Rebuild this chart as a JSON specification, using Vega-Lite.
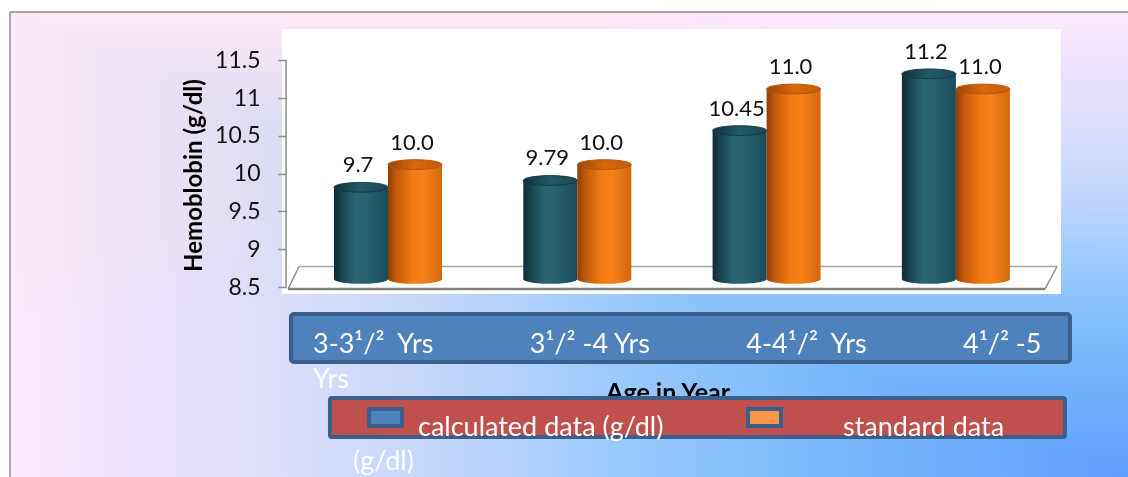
{
  "$schema": "https://vega.github.io/schema/vega-lite/v6.json",
  "width": 1118,
  "height": 465,
  "autosize": "none",
  "padding": {"left": 10, "top": 12, "right": 0, "bottom": 0},
  "background": "white",
  "config": {"view": {"stroke": null}, "font": "Lato", "text": {"font": "Lato"}},
  "data": {"values": [{}]},
  "datasets": {
    "hb": [
      {"age": "3-3½", "series": "calculated", "value": 9.7},
      {"age": "3-3½", "series": "standard", "value": 10.0},
      {"age": "3½-4", "series": "calculated", "value": 9.79},
      {"age": "3½-4", "series": "standard", "value": 10.0},
      {"age": "4-4½", "series": "calculated", "value": 10.45},
      {"age": "4-4½", "series": "standard", "value": 11.0},
      {"age": "4½-5", "series": "calculated", "value": 11.2},
      {"age": "4½-5", "series": "standard", "value": 11.0}
    ],
    "ages": [
      {"age": "3-3½", "label": "3-3¹/²\u00a0\u00a0Yrs\nYrs"},
      {"age": "3½-4", "label": "3¹/² -4 Yrs"},
      {"age": "4-4½", "label": "4-4¹/²\u00a0\u00a0Yrs"},
      {"age": "4½-5", "label": "4¹/² -5"}
    ],
    "legend": [
      {"series": "calculated", "label": "calculated data (g/dl)"},
      {"series": "standard", "label": "standard data"}
    ]
  },
  "resolve": {"scale": {"x": "independent"}},
  "layer": [
    {
      "mark": {
        "type": "rect",
        "fill": {
          "gradient": "linear", "x1": 1, "y1": 0, "x2": 0, "y2": 0,
          "stops": [
            {"offset": 0, "color": "#5f9ffc"},
            {"offset": 0.27, "color": "#7ab8fb"},
            {"offset": 0.35, "color": "#86bffb"},
            {"offset": 0.47, "color": "#9ecbf6"},
            {"offset": 0.55, "color": "#b3d1f2"},
            {"offset": 0.63, "color": "#c6d8ef"},
            {"offset": 0.75, "color": "#dadcf0"},
            {"offset": 0.87, "color": "#ebe2f3"},
            {"offset": 1, "color": "#fce9f7"}
          ]
        }
      },
      "encoding": {}
    },
    {
      "mark": {
        "type": "rect", "blend": "lighten",
        "fill": {
          "gradient": "linear", "x1": 0, "y1": 1, "x2": 0, "y2": 0,
          "stops": [
            {"offset": 0, "color": "#5f9ffc"},
            {"offset": 0.27, "color": "#7ab8fb"},
            {"offset": 0.35, "color": "#86bffb"},
            {"offset": 0.47, "color": "#9ecbf6"},
            {"offset": 0.55, "color": "#b3d1f2"},
            {"offset": 0.63, "color": "#c6d8ef"},
            {"offset": 0.75, "color": "#dadcf0"},
            {"offset": 0.87, "color": "#ebe2f3"},
            {"offset": 1, "color": "#fce9f7"}
          ]
        }
      },
      "encoding": {}
    },
    {
      "mark": {"type": "rule", "stroke": "#8c8c8c", "strokeWidth": 1.5},
      "encoding": {
        "y": {"datum": 12.1376, "type": "quantitative", "scale": {"domain": [5.9868, 12.1376], "nice": false, "zero": false}}
      }
    },
    {
      "mark": {"type": "rule", "stroke": "#8c8c8c", "strokeWidth": 1.5},
      "encoding": {
        "x": {"datum": 0, "type": "quantitative", "scale": {"domain": [0, 1], "nice": false, "zero": false}, "axis": null}
      }
    },
    {
      "mark": {"type": "rect", "fill": "#ffffff"},
      "encoding": {
        "x": {"datum": 0.2433, "type": "quantitative", "scale": {"domain": [0, 1], "nice": false, "zero": false}, "axis": null},
        "x2": {"datum": 0.9401},
        "y": {
          "datum": 11.913, "type": "quantitative",
          "scale": {"domain": [5.9868, 12.1376], "nice": false, "zero": false},
          "axis": {
            "orient": "left", "offset": -276, "zindex": 1,
            "values": [8.5, 9, 9.5, 10, 10.5, 11, 11.5], "format": "~g",
            "domain": false, "grid": false,
            "tickSize": 8, "tickColor": "#8c8c8c", "tickWidth": 1.5,
            "labelFont": "Lato", "labelFontSize": 23, "labelColor": "#111111", "labelPadding": 18,
            "labelFlush": false, "labelOverlap": false,
            "title": "Hemoblobin (g/dl)", "titleFont": "Lato", "titleFontSize": 24, "titleFontWeight": "bold",
            "titleColor": "#000000", "titleAngle": 270, "titleX": -92, "titleY": 163,
            "titleAlign": "center", "titleBaseline": "middle"
          }
        },
        "y2": {"datum": 8.407}
      }
    },
    {
      "mark": {"type": "rule", "stroke": "#a6a6a6", "strokeWidth": 1.5},
      "encoding": {
        "x": {"datum": 0.2585, "type": "quantitative", "scale": {"domain": [0, 1], "nice": false, "zero": false}, "axis": null},
        "x2": {"datum": 0.9365},
        "y": {"datum": 8.7712, "type": "quantitative"}
      }
    },
    {
      "mark": {"type": "rule", "stroke": "#8c8c8c", "strokeWidth": 1.5},
      "encoding": {
        "x": {"datum": 0.9365, "type": "quantitative", "scale": {"domain": [0, 1], "nice": false, "zero": false}, "axis": null},
        "x2": {"datum": 0.9258},
        "y": {"datum": 8.7712, "type": "quantitative"},
        "y2": {"datum": 8.4735}
      }
    },
    {
      "mark": {"type": "rule", "stroke": "#8c8c8c", "strokeWidth": 1.5},
      "encoding": {
        "x": {"datum": 0.2585, "type": "quantitative", "scale": {"domain": [0, 1], "nice": false, "zero": false}, "axis": null},
        "x2": {"datum": 0.2487},
        "y": {"datum": 8.7712, "type": "quantitative"},
        "y2": {"datum": 8.4735}
      }
    },
    {
      "mark": {"type": "rule", "stroke": "#808080", "strokeWidth": 2.5},
      "encoding": {
        "x": {"datum": 0.2487, "type": "quantitative", "scale": {"domain": [0, 1], "nice": false, "zero": false}, "axis": null},
        "x2": {"datum": 0.9258},
        "y": {"datum": 8.4735, "type": "quantitative"}
      }
    },
    {
      "mark": {"type": "rule", "stroke": "#8c8c8c", "strokeWidth": 1.5},
      "encoding": {
        "x": {"datum": 0.2469, "type": "quantitative", "scale": {"domain": [0, 1], "nice": false, "zero": false}, "axis": null},
        "y": {"datum": 11.5, "type": "quantitative"},
        "y2": {"datum": 8.4868}
      }
    },
    {
      "data": {"name": "hb"},
      "transform": [{"filter": "datum.series === 'calculated'"}],
      "mark": {
        "type": "point", "shape": "M-1,0A1,0.18,0,1,1,1,0A1,0.18,0,1,1,-1,0Z", "size": 2916,
        "filled": true, "opacity": 1, "yOffset": -8,
        "fill": {"gradient": "linear", "x1": 0, "y1": 0, "x2": 1, "y2": 0,
          "stops": [{"offset": 0, "color": "#0f2c37"}, {"offset": 0.12, "color": "#17404d"}, {"offset": 0.4, "color": "#2a6575"}, {"offset": 0.62, "color": "#286070"}, {"offset": 1, "color": "#1b4b5a"}]}
      },
      "encoding": {
        "x": {"field": "age", "type": "nominal", "scale": {"domain": ["3-3½", "3½-4", "4-4½", "4½-5"], "range": [324, 999.9], "paddingInner": 0.4295, "paddingOuter": 0}, "axis": null},
        "xOffset": {"field": "series", "type": "nominal", "scale": {"domain": ["calculated", "standard"], "paddingInner": 0, "paddingOuter": 0}},
        "y": {"datum": 8.5, "type": "quantitative"}
      }
    },
    {
      "data": {"name": "hb"},
      "transform": [{"filter": "datum.series === 'calculated'"}],
      "mark": {
        "type": "bar", "yOffset": -9, "y2Offset": -8,
        "fill": {"gradient": "linear", "x1": 0, "y1": 0, "x2": 1, "y2": 0,
          "stops": [{"offset": 0, "color": "#0f2c37"}, {"offset": 0.12, "color": "#17404d"}, {"offset": 0.4, "color": "#2a6575"}, {"offset": 0.62, "color": "#286070"}, {"offset": 1, "color": "#1b4b5a"}]}
      },
      "encoding": {
        "x": {"field": "age", "type": "nominal", "scale": {"domain": ["3-3½", "3½-4", "4-4½", "4½-5"], "range": [324, 999.9], "paddingInner": 0.4295, "paddingOuter": 0}, "axis": null},
        "xOffset": {"field": "series", "type": "nominal", "scale": {"domain": ["calculated", "standard"], "paddingInner": 0, "paddingOuter": 0}},
        "y": {"field": "value", "type": "quantitative", "title": "Hemoblobin (g/dl)"},
        "y2": {"datum": 8.5}
      }
    },
    {
      "data": {"name": "hb"},
      "transform": [{"filter": "datum.series === 'calculated'"}],
      "mark": {
        "type": "point", "shape": "M-1,0A1,0.18,0,1,1,1,0A1,0.18,0,1,1,-1,0Z", "size": 2916,
        "filled": true, "opacity": 1, "yOffset": -9, "stroke": "#143a47", "strokeWidth": 1,
        "fill": {"gradient": "linear", "x1": 0, "y1": 0, "x2": 1, "y2": 0,
          "stops": [{"offset": 0, "color": "#11313c"}, {"offset": 0.5, "color": "#23586a"}, {"offset": 1, "color": "#1a4756"}]}
      },
      "encoding": {
        "x": {"field": "age", "type": "nominal", "scale": {"domain": ["3-3½", "3½-4", "4-4½", "4½-5"], "range": [324, 999.9], "paddingInner": 0.4295, "paddingOuter": 0}, "axis": null},
        "xOffset": {"field": "series", "type": "nominal", "scale": {"domain": ["calculated", "standard"], "paddingInner": 0, "paddingOuter": 0}},
        "y": {"field": "value", "type": "quantitative"}
      }
    },
    {
      "data": {"name": "hb"},
      "transform": [{"filter": "datum.series === 'standard'"}],
      "mark": {
        "type": "point", "shape": "M-1,0A1,0.18,0,1,1,1,0A1,0.18,0,1,1,-1,0Z", "size": 2916,
        "filled": true, "opacity": 1, "yOffset": -8,
        "fill": {"gradient": "linear", "x1": 0, "y1": 0, "x2": 1, "y2": 0,
          "stops": [{"offset": 0, "color": "#8c3f05"}, {"offset": 0.15, "color": "#c2590a"}, {"offset": 0.45, "color": "#f27a12"}, {"offset": 0.65, "color": "#f6801a"}, {"offset": 1, "color": "#d4680b"}]}
      },
      "encoding": {
        "x": {"field": "age", "type": "nominal", "scale": {"domain": ["3-3½", "3½-4", "4-4½", "4½-5"], "range": [324, 999.9], "paddingInner": 0.4295, "paddingOuter": 0}, "axis": null},
        "xOffset": {"field": "series", "type": "nominal", "scale": {"domain": ["calculated", "standard"], "paddingInner": 0, "paddingOuter": 0}},
        "y": {"datum": 8.5, "type": "quantitative"}
      }
    },
    {
      "data": {"name": "hb"},
      "transform": [{"filter": "datum.series === 'standard'"}],
      "mark": {
        "type": "bar", "yOffset": -9, "y2Offset": -8,
        "fill": {"gradient": "linear", "x1": 0, "y1": 0, "x2": 1, "y2": 0,
          "stops": [{"offset": 0, "color": "#8c3f05"}, {"offset": 0.15, "color": "#c2590a"}, {"offset": 0.45, "color": "#f27a12"}, {"offset": 0.65, "color": "#f6801a"}, {"offset": 1, "color": "#d4680b"}]}
      },
      "encoding": {
        "x": {"field": "age", "type": "nominal", "scale": {"domain": ["3-3½", "3½-4", "4-4½", "4½-5"], "range": [324, 999.9], "paddingInner": 0.4295, "paddingOuter": 0}, "axis": null},
        "xOffset": {"field": "series", "type": "nominal", "scale": {"domain": ["calculated", "standard"], "paddingInner": 0, "paddingOuter": 0}},
        "y": {"field": "value", "type": "quantitative", "title": "Hemoblobin (g/dl)"},
        "y2": {"datum": 8.5}
      }
    },
    {
      "data": {"name": "hb"},
      "transform": [{"filter": "datum.series === 'standard'"}],
      "mark": {
        "type": "point", "shape": "M-1,0A1,0.18,0,1,1,1,0A1,0.18,0,1,1,-1,0Z", "size": 2916,
        "filled": true, "opacity": 1, "yOffset": -9, "stroke": "#b5530a", "strokeWidth": 1,
        "fill": {"gradient": "linear", "x1": 0, "y1": 0, "x2": 1, "y2": 0,
          "stops": [{"offset": 0, "color": "#9a4606"}, {"offset": 0.5, "color": "#d9680d"}, {"offset": 1, "color": "#c45d0a"}]}
      },
      "encoding": {
        "x": {"field": "age", "type": "nominal", "scale": {"domain": ["3-3½", "3½-4", "4-4½", "4½-5"], "range": [324, 999.9], "paddingInner": 0.4295, "paddingOuter": 0}, "axis": null},
        "xOffset": {"field": "series", "type": "nominal", "scale": {"domain": ["calculated", "standard"], "paddingInner": 0, "paddingOuter": 0}},
        "y": {"field": "value", "type": "quantitative"}
      }
    },
    {
      "data": {"name": "hb"},
      "transform": [{"filter": "datum.series === 'calculated'"}],
      "mark": {"type": "text", "font": "Lato", "fontSize": 22, "color": "#111111", "align": "center", "baseline": "alphabetic", "yOffset": -24, "dx": -3},
      "encoding": {
        "x": {"field": "age", "type": "nominal", "scale": {"domain": ["3-3½", "3½-4", "4-4½", "4½-5"], "range": [324, 999.9], "paddingInner": 0.4295, "paddingOuter": 0}, "axis": null},
        "xOffset": {"field": "series", "type": "nominal", "scale": {"domain": ["calculated", "standard"], "paddingInner": 0, "paddingOuter": 0}},
        "y": {"field": "value", "type": "quantitative"},
        "text": {"field": "value", "type": "quantitative", "format": "~g"}
      }
    },
    {
      "data": {"name": "hb"},
      "transform": [{"filter": "datum.series === 'standard'"}],
      "mark": {"type": "text", "font": "Lato", "fontSize": 22, "color": "#111111", "align": "center", "baseline": "alphabetic", "yOffset": -24, "dx": -3},
      "encoding": {
        "x": {"field": "age", "type": "nominal", "scale": {"domain": ["3-3½", "3½-4", "4-4½", "4½-5"], "range": [324, 999.9], "paddingInner": 0.4295, "paddingOuter": 0}, "axis": null},
        "xOffset": {"field": "series", "type": "nominal", "scale": {"domain": ["calculated", "standard"], "paddingInner": 0, "paddingOuter": 0}},
        "y": {"field": "value", "type": "quantitative"},
        "text": {"field": "value", "type": "quantitative", "format": ".1f"}
      }
    },
    {
      "mark": {"type": "rect", "fill": "#4f81bd", "stroke": "#3a5f8b", "strokeWidth": 4, "cornerRadius": 3},
      "encoding": {
        "x": {"datum": 0.2513, "type": "quantitative", "scale": {"domain": [0, 1], "nice": false, "zero": false}, "axis": null},
        "x2": {"datum": 0.9481},
        "y": {"datum": 8.1429, "type": "quantitative"},
        "y2": {"datum": 7.5079}
      }
    },
    {
      "data": {"name": "ages"},
      "mark": {"type": "text", "font": "Lato", "fontSize": 27, "color": "#ffffff", "align": "left", "baseline": "alphabetic", "lineBreak": "\n", "lineHeight": 35},
      "encoding": {
        "x": {"field": "age", "type": "nominal", "scale": {"type": "point", "domain": ["3-3½", "3½-4", "4-4½", "4½-5"], "range": [303, 953], "padding": 0}, "axis": null},
        "y": {"datum": 7.627, "type": "quantitative"},
        "text": {"field": "label", "type": "nominal"}
      }
    },
    {
      "mark": {"type": "text", "text": "Age in Year", "font": "Lato", "fontSize": 25, "fontWeight": "bold", "color": "#000000", "align": "center", "baseline": "alphabetic"},
      "encoding": {
        "x": {"datum": 0.5886, "type": "quantitative", "scale": {"domain": [0, 1], "nice": false, "zero": false}, "axis": null},
        "y": {"datum": 6.992, "type": "quantitative"}
      }
    },
    {
      "mark": {"type": "rect", "fill": "#c0504d", "stroke": "#3a5f8b", "strokeWidth": 4, "cornerRadius": 2},
      "encoding": {
        "x": {"datum": 0.2862, "type": "quantitative", "scale": {"domain": [0, 1], "nice": false, "zero": false}, "axis": null},
        "x2": {"datum": 0.9436},
        "y": {"datum": 7.0317, "type": "quantitative"},
        "y2": {"datum": 6.5159}
      }
    },
    {
      "data": {"name": "legend"},
      "mark": {"type": "point", "shape": "M-1,-0.515H1V0.515H-1Z", "size": 1089, "filled": true, "opacity": 1, "stroke": "#3a5f8b", "strokeWidth": 4},
      "encoding": {
        "x": {"field": "series", "type": "nominal", "scale": {"type": "point", "domain": ["calculated", "standard"], "padding": 0.97493, "align": 0.50812}, "axis": null},
        "y": {"datum": 6.7738, "type": "quantitative"},
        "fill": {"field": "series", "type": "nominal", "scale": {"domain": ["calculated", "standard"], "range": ["#4f81bd", "#f79646"]}, "legend": null}
      }
    },
    {
      "data": {"name": "legend"},
      "mark": {"type": "text", "font": "Lato", "fontSize": 27, "color": "#ffffff", "align": "left", "baseline": "alphabetic"},
      "encoding": {
        "x": {"field": "series", "type": "nominal", "scale": {"type": "point", "domain": ["calculated", "standard"], "padding": 0.8153, "align": 0.58874}, "axis": null},
        "y": {"datum": 6.529, "type": "quantitative"},
        "text": {"field": "label", "type": "nominal"}
      }
    },
    {
      "mark": {"type": "text", "text": "(g/dl)", "font": "Lato", "fontSize": 27, "color": "#ffffff", "align": "left", "baseline": "alphabetic"},
      "encoding": {
        "x": {"datum": 0.3068, "type": "quantitative", "scale": {"domain": [0, 1], "nice": false, "zero": false}, "axis": null},
        "y": {"datum": 6.0794, "type": "quantitative"}
      }
    }
  ]
}
